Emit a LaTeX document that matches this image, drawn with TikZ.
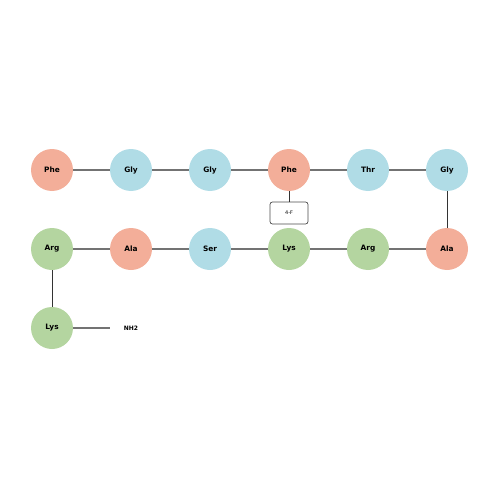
\documentclass[tikz,border=0pt]{standalone}
\usepackage{fontspec}
\setmainfont{DejaVu Sans}
\begin{document}
\begin{tikzpicture}[x=1pt,y=-1pt,
  res/.style={circle,minimum size=42pt,inner sep=0pt,font=\fontsize{7.4}{8}\selectfont\bfseries},
  phe/.style={res,fill=salm},
  blu/.style={res,fill=lblue},
  grn/.style={res,fill=lgreen},
  hb/.style={draw=gray!90!black,line width=1.2pt},
  vb/.style={draw=black!80,line width=0.9pt},
  modbox/.style={draw=black!70,rounded corners=2.5pt,line width=0.7pt,fill=white,minimum width=38pt,minimum height=22pt,inner sep=0pt,font=\fontsize{5}{6}\selectfont}]
\definecolor{salm}{RGB}{243,174,153}
\definecolor{lblue}{RGB}{176,220,230}
\definecolor{lgreen}{RGB}{180,213,160}
\useasboundingbox (0,0) rectangle (500,500);
\node[phe] (a1) at (52,170) {Phe};
\node[blu] (a2) at (131,170) {Gly};
\node[blu] (a3) at (210,170) {Gly};
\node[phe] (a4) at (289,170) {Phe};
\node[blu] (a5) at (368,170) {Thr};
\node[blu] (a6) at (447,170) {Gly};
\node[phe] (a7) at (447,249) {Ala};
\node[grn] (a8) at (368,249) {Arg};
\node[grn] (a9) at (289,249) {Lys};
\node[blu] (a10) at (210,249) {Ser};
\node[phe] (a11) at (131,249) {Ala};
\node[grn] (a12) at (52,249) {Arg};
\node[grn] (a13) at (52,328) {Lys};
\node[modbox] (m) at (289,213) {4-F};
\coordinate (e) at (110,328);
\node[font=\fontsize{6}{7}\selectfont\bfseries] (nh) at (131,328) {NH2};
\draw[hb] (a1) -- (a2);
\draw[hb] (a2) -- (a3);
\draw[hb] (a3) -- (a4);
\draw[hb] (a4) -- (a5);
\draw[hb] (a5) -- (a6);
\draw[vb] (a6) -- (a7);
\draw[hb] (a7) -- (a8);
\draw[hb] (a8) -- (a9);
\draw[hb] (a9) -- (a10);
\draw[hb] (a10) -- (a11);
\draw[hb] (a11) -- (a12);
\draw[vb] (a12) -- (a13);
\draw[hb] (a13) -- (e);
\draw[vb] (a4) -- (m);
\end{tikzpicture}
\end{document}
